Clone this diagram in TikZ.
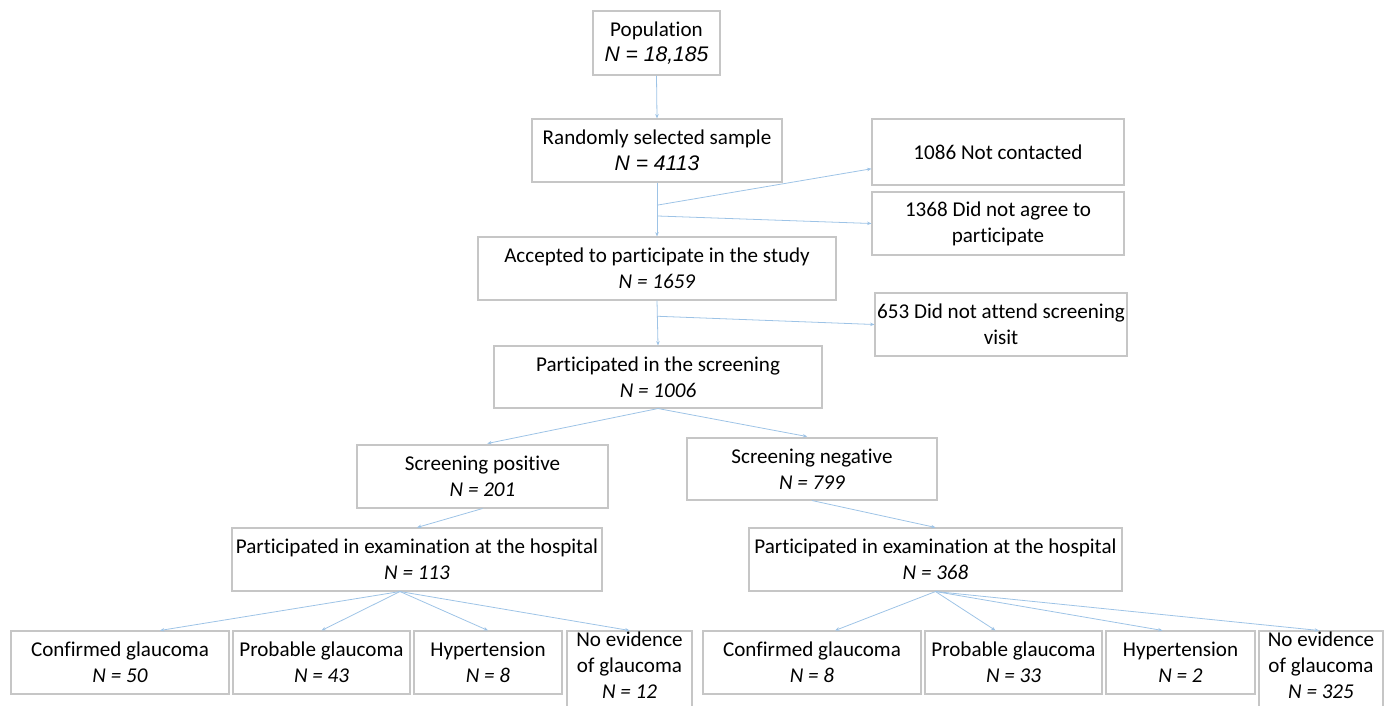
\documentclass[tikz,border=0pt]{standalone}
\usepackage{fontspec}
\setmainfont{Carlito}[Ligatures=NoCommon]
\newfontfamily\arialf{Liberation Sans}
\usetikzlibrary{arrows.meta,calc}
\definecolor{boxgray}{HTML}{C6C6C6}
\definecolor{linkblue}{HTML}{9DC3E6}
\newcommand\mkbox[6]{\node[box, minimum width={(#4-#2)*0.02cm}, minimum height={(#5-#3)*0.02cm}] (#1) at ({(#2+#4)/2},{(#3+#5)/2}) {#6};}
\begin{document}
\begin{tikzpicture}[x=0.02cm,y=-0.02cm,
  box/.style={draw=boxgray, line width=0.6pt, align=center, inner sep=0pt, font=\fontsize{12}{14.7}\selectfont},
  txt/.style={align=center, inner sep=0pt, font=\fontsize{12}{14.7}\selectfont},
  conn/.style={draw=linkblue, line width=0.45pt, -{Stealth[length=2.5pt,width=2pt]}},
]
\useasboundingbox (0,0) rectangle (1392,706);
\clip (0,0) rectangle (1392,706);
\mkbox{pop}{593}{11}{720}{75}{Population\\{\arialf\itshape N = 18,185}}
\mkbox{rand}{532}{119}{782}{182}{Randomly selected sample\\{\arialf\itshape N = 4113}}
\mkbox{nc}{872}{119}{1124}{185}{1086 Not contacted}
\mkbox{na}{872}{192}{1124}{255}{1368 Did not agree to\\participate}
\mkbox{acc}{478}{237}{836}{300}{Accepted to participate in the study\\\textit{N = 1659}}
\mkbox{nat}{875}{293}{1127}{356}{653 Did not attend screening\\visit}
\mkbox{scr}{494}{346}{822}{408}{Participated in the screening\\\textit{N = 1006}}
\mkbox{pos}{357}{445}{608}{508}{Screening positive\\\textit{N = 201}}
\mkbox{neg}{687}{438}{937}{500}{Screening negative\\\textit{N = 799}}
\mkbox{exl}{232}{528}{602}{591}{Participated in examination at the hospital\\\textit{N = 113}}
\mkbox{exr}{749}{528}{1122}{591}{Participated in examination at the hospital\\\textit{N = 368}}
\mkbox{cga}{11}{631}{229}{694}{Confirmed glaucoma\\\textit{N = 50}}
\mkbox{pga}{233}{631}{410}{694}{Probable glaucoma\\\textit{N = 43}}
\mkbox{hta}{414}{631}{562}{694}{Hypertension\\\textit{N = 8}}
\mkbox{nea}{567}{631}{692}{714}{}
\node[txt] (neat) at (629.5,665) {No evidence\\of glaucoma\\\textit{N = 12}};
\mkbox{cgb}{703}{631}{921}{694}{Confirmed glaucoma\\\textit{N = 8}}
\mkbox{pgb}{925}{631}{1102}{694}{Probable glaucoma\\\textit{N = 33}}
\mkbox{htb}{1106}{631}{1255}{694}{Hypertension\\\textit{N = 2}}
\mkbox{neb}{1259}{631}{1383}{714}{}
\node[txt] (nebt) at (1321,665) {No evidence\\of glaucoma\\\textit{N = 325}};
% trunk
\draw[conn] (pop.south) -- (rand.north);
\draw[conn] (rand.south) -- (acc.north);
\draw[conn] (acc.south) -- (scr.north);
\coordinate (t1) at ($(rand.south)!0.42!(acc.north)$);
\coordinate (t2) at ($(rand.south)!0.62!(acc.north)$);
\coordinate (t3) at ($(acc.south)!0.35!(scr.north)$);
\draw[conn] (t1) -- ($(nc.south west)!0.25!(nc.north west)$);
\draw[conn] (t2) -- (na.west);
\draw[conn] (t3) -- (nat.west);
% screening split
\draw[conn, shorten >=2.8pt] (scr.south) -- (pos.north);
\draw[conn, shorten >=2.8pt] (scr.south) -- (neg.north);
\draw[conn] (pos.south) -- (exl.north);
\draw[conn] (neg.south) -- (exr.north);
% left outcomes
\coordinate (ls) at ([xshift={-17*0.02cm}]exl.south);
\draw[conn] (ls) -- ([xshift={40*0.02cm}]cga.north);
\draw[conn] (ls) -- (pga.north);
\draw[conn] (ls) -- (hta.north);
\draw[conn] (ls) -- (nea.north);
% right outcomes
\draw[conn] (exr.south) -- ([xshift={23*0.02cm}]cgb.north);
\draw[conn] (exr.south) -- ([xshift={-18*0.02cm}]pgb.north);
\draw[conn] (exr.south) -- ([xshift={-18*0.02cm}]htb.north);
\draw[conn] (exr.south) -- ([xshift={-2*0.02cm}]neb.north);
\end{tikzpicture}
\end{document}
